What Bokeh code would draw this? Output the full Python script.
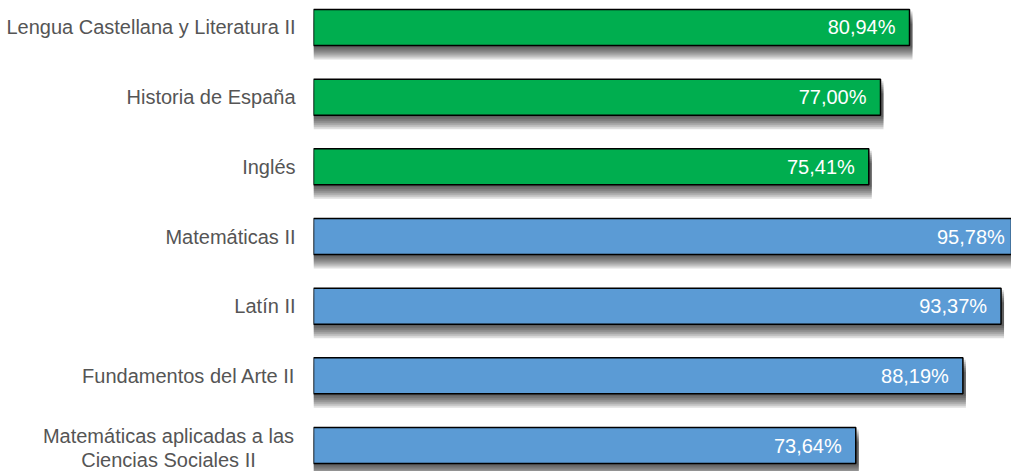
from bokeh.plotting import figure
from bokeh.layouts import row
from bokeh.models import Range1d, ColumnDataSource
from bokeh.core.properties import value
from bokeh.embed import file_html
from bokeh.resources import INLINE

subjects = [
    "Lengua Castellana y Literatura II",
    "Historia de España",
    "Inglés",
    "Matemáticas II",
    "Latín II",
    "Fundamentos del Arte II",
    "Matemáticas aplicadas a las\nCiencias Sociales II",
]
values = [80.94, 77.00, 75.41, 95.78, 93.37, 88.19, 73.64]
groups = ["common", "common", "common", "option", "option", "option", "option"]
group_colors = {"common": "#00AE4F", "option": "#5B9BD5"}

W, H = 1011, 471
LEFT = 313
XMAX = 94.79
PX_X = (W - LEFT) / XMAX
YTOP, YBOT = -0.3875, 6.373
PX_Y = H / (YBOT - YTOP)
BAR_H = 36 / PX_Y

pos = list(range(len(subjects)))
labels = [f"{v:.2f}".replace(".", ",") + "%" for v in values]
colors = [group_colors[g] for g in groups]
yr = Range1d(YBOT, YTOP)


def bare(fig):
    fig.xaxis.visible = False
    fig.yaxis.visible = False
    fig.grid.visible = False
    fig.outline_line_color = None
    fig.background_fill_color = "white"
    fig.border_fill_color = "white"
    fig.min_border_left = 0
    fig.min_border_right = 0
    fig.min_border_top = 0
    fig.min_border_bottom = 0


# left: category labels
pl = figure(width=LEFT, height=H, output_backend="svg", toolbar_location=None,
            x_range=Range1d(0, LEFT), y_range=yr)
bare(pl)
single = [(y, s) for y, s in zip(pos, subjects) if "\n" not in s]
multi = [(y, s) for y, s in zip(pos, subjects) if "\n" in s]
pl.text(x=[295] * len(single), y=[y for y, _ in single], text=[s for _, s in single],
        text_align="right", text_baseline="middle", text_color="#555555",
        text_font=value("Liberation Sans"), text_font_size="20px")
pl.text(x=[168] * len(multi), y=[y + 2.5 / PX_Y for y, _ in multi], text=[s for _, s in multi],
        text_align="center", text_baseline="middle", text_color="#555555",
        text_font=value("Liberation Sans"), text_font_size="20px", text_line_height=1.05)

# right: bars
p = figure(width=W - LEFT, height=H, output_backend="svg", toolbar_location=None,
           x_range=Range1d(0, XMAX), y_range=yr)
bare(p)

# drop shadow layers
for k in range(2, 15, 2):
    p.hbar(y=[y + k / PX_Y for y in pos], left=0, right=[v + 3 / PX_X for v in values],
           height=BAR_H, fill_color="black", fill_alpha=0.13, line_color=None)

src = ColumnDataSource(dict(y=pos, right=values, color=colors, lab=labels))
p.hbar(y="y", left=0, right="right", height=BAR_H, fill_color="color",
       line_color="black", line_width=1.5, source=src)
p.text(x="right", y="y", text="lab", x_offset=-14, text_align="right",
       text_baseline="middle", text_color="white", text_font=value("Liberation Sans"),
       text_font_size="20px", source=src)

layout = row(pl, p, spacing=0)
open("out.html", "w").write(file_html(layout, INLINE))
